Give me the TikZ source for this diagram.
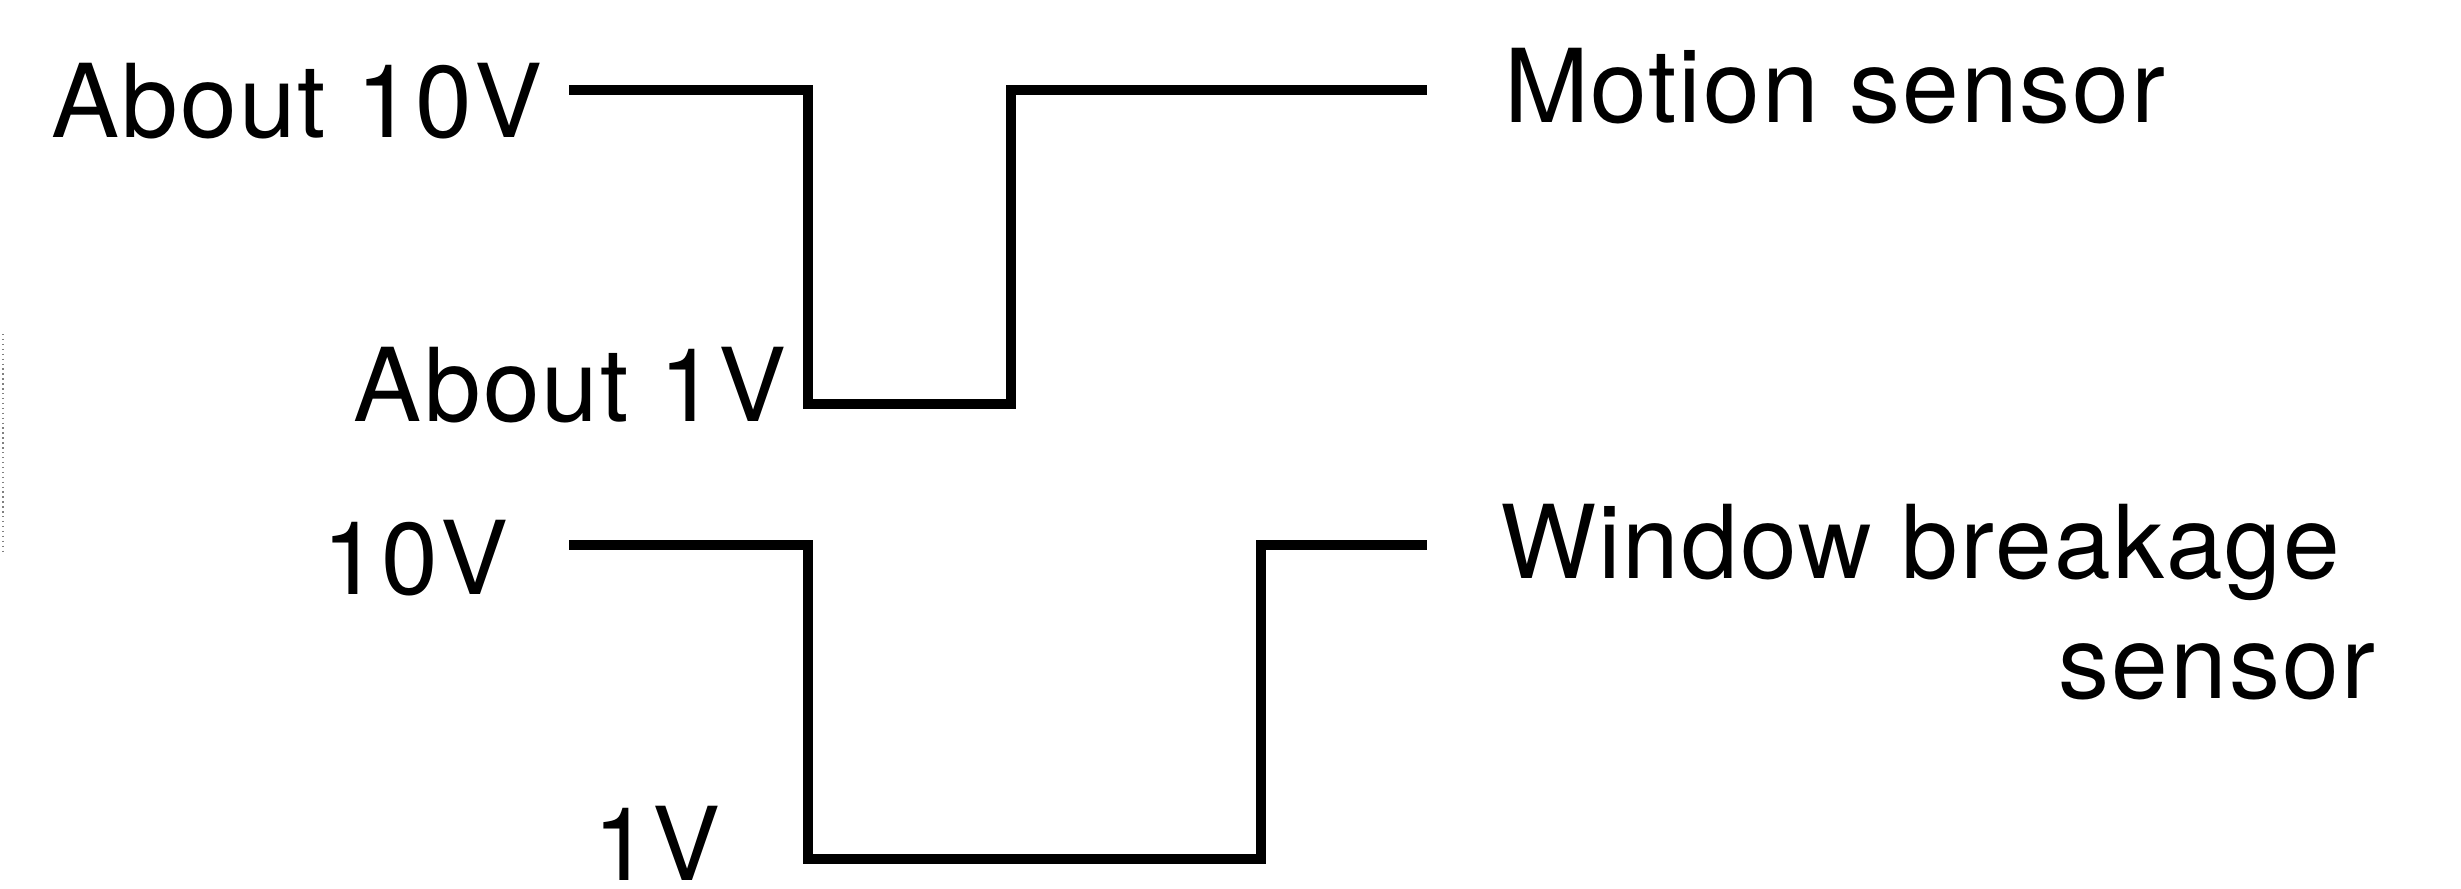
\documentclass[tikz,border=0pt]{standalone}
\usepackage{fontspec}
\setmainfont{TeX Gyre Heros}[LetterSpace=2]

\begin{document}
\begin{tikzpicture}[
    line cap=butt, line join=miter,
    font=\fontsize{29}{35}\selectfont
  ]
  \tikzset{
    wave/.style={line width=0.1cm},
    lbl/.style={inner sep=0pt, outer sep=0pt}
  }
  \useasboundingbox (0,0) rectangle (24.61,-8.89);

  % ------------------ Layout ------------------
  \def\startX{5.69}
  \def\fallX{8.08}
  \def\endX{14.27}
  \def\pulseH{3.14}

  \def\motionY{-0.896}
  \def\motionRiseX{10.11}

  \def\windowY{-5.45}
  \def\windowRiseX{12.61}

  % ------------------ Motion sensor signal ------------------
  \draw[wave] (\startX,\motionY) -- (\fallX,\motionY)
    |- (\motionRiseX,\motionY-\pulseH)
    |- (\endX,\motionY);

  \node[lbl, anchor=base east] (motionHigh) at (5.42,-1.37) {About 10V};
  \node[lbl, anchor=base east] (motionLow) at (7.86,-4.21) {About 1V};
  \node[lbl, anchor=base west] (motionName) at (15.04,-1.22) {Motion sensor};

  % ------------------ Window breakage sensor signal ------------------
  \draw[wave] (\startX,\windowY) -- (\fallX,\windowY)
    |- (\windowRiseX,\windowY-\pulseH)
    |- (\endX,\windowY);

  \node[lbl, anchor=base east] (windowHigh) at (5.08,-5.94) {10V};
  \node[lbl, anchor=base east] (windowLow) at (7.20,-8.80) {1V};
  \node[lbl, anchor=base west] (windowName) at (15.0,-5.78) {Window breakage};
  \node[lbl, anchor=base east] (windowName2) at (23.75,-6.98) {sensor};

  % ------------------ Edge mark ------------------
  \draw[gray, densely dotted, line width=0.4pt] (0.03,-3.34) -- (0.03,-5.53);

\end{tikzpicture}
\end{document}
